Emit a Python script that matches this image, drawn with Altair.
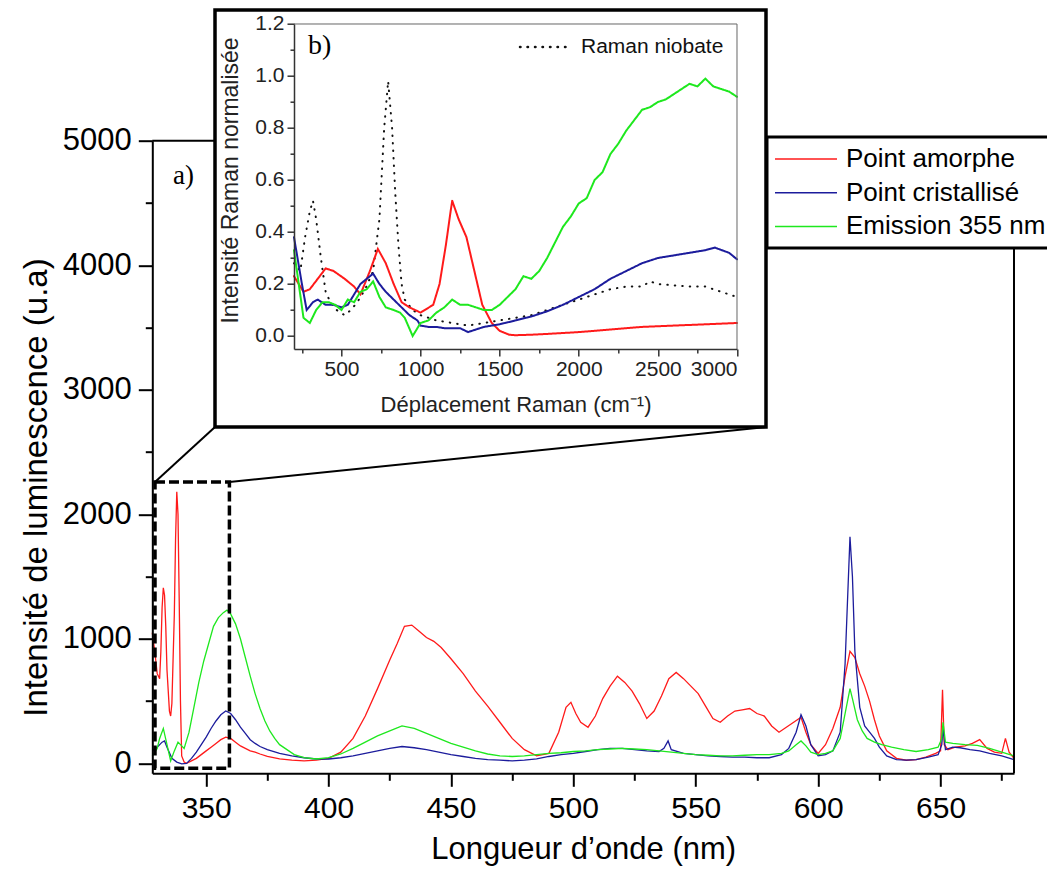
import altair as alt
import pandas as pd

# ---------------- main spectra (wavelength nm, intensity u.a) ----------------
series = ["Point amorphe", "Point cristallisé", "Emission 355 nm"]
colors = ["#ff1a1a", "#1c1c9c", "#1ee81e"]

red_x = [328, 329, 330, 331, 331.5, 332, 332.5, 333, 333.5, 334, 335, 335.5, 336, 337, 337.5, 338, 338.5, 339,
         339.5, 340, 341, 342, 344, 346, 348, 350, 352, 354, 356, 358, 360, 362, 364, 366, 368, 370, 372, 375,
         380, 385, 390, 395, 400, 405, 410, 415, 420, 425, 428, 431, 434, 437, 440, 443, 446, 450, 455, 460,
         465, 470, 475, 480, 485, 490, 494, 497, 499, 501, 503, 506, 509, 512, 515, 518, 521, 524, 527, 530,
         533, 536, 539, 542, 545, 548, 551, 554, 557, 560, 563, 566, 569, 572, 575, 578, 581, 584, 587, 590,
         593, 595, 597, 600, 603, 606, 609, 611, 613, 615, 617, 619, 621, 623, 625, 628, 632, 636, 640, 644,
         648, 650, 650.8, 651.5, 653, 656, 660, 663, 666, 669, 672, 675, 676.5, 678, 680]
red_y = [1050, 900, 720, 680, 900, 1250, 1410, 1350, 1100, 750, 420, 380, 480, 1200, 1800, 2180, 2000, 1300,
         500, 60, 10, 0, 20, 40, 70, 100, 130, 160, 190, 210, 200, 170, 140, 120, 100, 90, 75, 55,
         35, 25, 20, 25, 40, 90, 200, 380, 600, 830, 960, 1100, 1110, 1060, 1010, 980, 930, 840, 720, 580,
         460, 330, 200, 110, 60, 80, 250, 450, 490, 400, 330, 290, 380, 520, 620, 700, 650, 580, 480, 360,
         420, 540, 680, 730, 680, 620, 560, 460, 360, 330, 380, 420, 430, 440, 400, 380, 300, 250, 290, 330,
         370, 250, 150, 80, 150, 280, 450, 700, 900, 850, 720, 620, 500, 350, 220, 100, 40, 25, 30, 50,
         80, 100, 590, 150, 110, 130, 140, 160, 190, 120, 90, 80, 200, 90, 40]

blue_x = [328, 330, 332, 333, 334, 336, 338, 340, 342, 344, 346, 348, 350, 352, 354, 356, 358, 360, 362, 364,
          366, 368, 370, 372, 375, 380, 385, 390, 395, 400, 405, 410, 415, 420, 425, 430, 435, 440, 445, 450,
          455, 460, 465, 470, 475, 480, 485, 490, 495, 500, 505, 510, 515, 520, 525, 530, 535, 537, 538.7, 540,
          545, 550, 555, 560, 565, 570, 575, 580, 585, 588, 591, 593, 595, 597, 600, 603, 606, 609, 611, 613,
          614, 615, 617, 619, 621, 623, 625, 628, 632, 636, 640, 645, 649, 650.5, 651, 652, 655, 658, 662, 666,
          670, 675, 680]
blue_y = [100, 130, 170, 180, 130, 40, 10, -5, 0, 40, 90, 150, 210, 280, 340, 390, 420, 400, 350, 290,
          240, 190, 160, 135, 110, 80, 60, 45, 35, 35, 45, 60, 80, 100, 120, 135, 125, 110, 90, 70,
          55, 40, 30, 25, 20, 25, 35, 55, 70, 80, 95, 110, 120, 120, 110, 100, 95, 120, 180, 110,
          80, 70, 60, 55, 50, 50, 45, 45, 70, 120, 250, 390, 300, 150, 60, 70, 100, 250, 800, 1820,
          1500, 900, 450, 300, 250, 200, 130, 60, 30, 25, 30, 50, 70, 150, 280, 110, 130, 125, 110, 100,
          80, 60, 30]

green_x = [328, 330, 331, 332.5, 334, 335.5, 337, 338.5, 340, 341, 343, 345, 347, 349, 351, 353, 355, 357, 358.5,
           360, 362, 364, 366, 368, 370, 372, 374, 376, 378, 380, 383, 386, 390, 395, 400, 405, 410, 415, 420,
           425, 430, 435, 440, 445, 450, 455, 460, 465, 470, 475, 480, 485, 490, 495, 500, 505, 510, 515, 520,
           525, 530, 535, 540, 545, 550, 555, 560, 565, 570, 575, 580, 585, 588, 591, 593, 595, 597, 600, 603,
           606, 609, 611, 613, 614, 616, 618, 620, 623, 626, 630, 635, 640, 645, 649, 650.5, 651, 652, 655, 660,
           665, 670, 675, 680]
green_y = [60, 120, 200, 280, 150, 20, 100, 170, 140, 120, 250, 450, 650, 820, 960, 1100, 1170, 1210, 1230,
           1200, 1120, 1000, 850, 700, 560, 440, 340, 260, 200, 150, 110, 70, 45, 35, 45, 75, 120, 170, 220,
           260, 300, 280, 240, 200, 160, 130, 100, 75, 60, 55, 60, 70, 80, 85, 95, 100, 110, 115, 120,
           115, 110, 100, 90, 80, 70, 65, 60, 60, 65, 70, 70, 80, 100, 150, 180, 140, 90, 70, 80,
           100, 200, 400, 600, 520, 350, 260, 200, 170, 150, 130, 110, 95, 110, 130, 200, 330, 170, 160, 150,
           145, 120, 90, 60]

# ---------------- inset: Raman (cm-1, normalised) ----------------
inset_series = ["Point amorphe", "Point cristallisé", "Emission 355 nm", "Raman niobate"]
inset_colors = ["#ff1a1a", "#1c1c9c", "#1ee81e", "#111111"]

r_red_x = [200, 260, 300, 350, 400, 450, 520, 580, 620, 680, 730, 780, 830, 880, 930, 1000, 1080, 1120, 1160,
           1190, 1200, 1240, 1290, 1340, 1390, 1450, 1500, 1560, 1600, 1700, 1800, 2000, 2200, 2400, 2600,
           2800, 3000]
r_red_y = [0.23, 0.17, 0.18, 0.22, 0.26, 0.25, 0.22, 0.19, 0.16, 0.25, 0.335, 0.28, 0.2, 0.13, 0.11, 0.09,
           0.12, 0.2, 0.35, 0.48, 0.52, 0.45, 0.38, 0.25, 0.12, 0.05, 0.02, 0.005, 0.003, 0.005, 0.008, 0.015,
           0.025, 0.035, 0.04, 0.045, 0.05]

r_blue_x = [200, 250, 280, 320, 350, 400, 450, 500, 540, 580, 620, 660, 700, 740, 780, 830, 880, 930, 980,
            1000, 1050, 1100, 1150, 1200, 1250, 1300, 1350, 1400, 1450, 1500, 1600, 1700, 1800, 1900, 2000,
            2100, 2200, 2300, 2400, 2500, 2600, 2700, 2800, 2860, 2950, 3000]
r_blue_y = [0.38, 0.2, 0.1, 0.13, 0.14, 0.12, 0.12, 0.11, 0.12, 0.16, 0.2, 0.22, 0.24, 0.2, 0.17, 0.14, 0.11,
            0.08, 0.06, 0.04, 0.035, 0.035, 0.03, 0.03, 0.03, 0.015, 0.025, 0.035, 0.04, 0.045, 0.06, 0.075,
            0.095, 0.12, 0.15, 0.18, 0.22, 0.25, 0.28, 0.3, 0.31, 0.32, 0.33, 0.34, 0.32, 0.295]

r_green_x = [200, 230, 260, 300, 340, 380, 420, 460, 500, 540, 580, 620, 660, 700, 740, 780, 830, 870, 900,
             950, 1000, 1050, 1100, 1150, 1200, 1250, 1300, 1350, 1400, 1450, 1500, 1550, 1600, 1650, 1700,
             1750, 1800, 1850, 1900, 1950, 2000, 2050, 2100, 2150, 2200, 2250, 2300, 2350, 2400, 2450, 2500,
             2550, 2600, 2650, 2700, 2750, 2800, 2850, 2900, 2950, 3000]
r_green_y = [0.33, 0.2, 0.07, 0.05, 0.1, 0.13, 0.13, 0.12, 0.1, 0.14, 0.13, 0.17, 0.18, 0.21, 0.15, 0.11, 0.1,
             0.09, 0.07, 0.0, 0.05, 0.06, 0.09, 0.11, 0.14, 0.12, 0.12, 0.11, 0.1, 0.1, 0.12, 0.15, 0.18, 0.23,
             0.22, 0.25, 0.3, 0.36, 0.42, 0.46, 0.51, 0.53, 0.6, 0.63, 0.7, 0.74, 0.79, 0.83, 0.87, 0.88, 0.9,
             0.91, 0.93, 0.95, 0.97, 0.96, 0.99, 0.96, 0.95, 0.94, 0.92]

r_nb_x = [200, 240, 270, 300, 320, 340, 370, 400, 430, 470, 520, 560, 600, 650, 700, 740, 770, 795, 820, 840,
          860, 880, 900, 950, 1000, 1100, 1200, 1300, 1400, 1500, 1600, 1700, 1800, 1900, 2000, 2100, 2200,
          2300, 2400, 2450, 2500, 2600, 2700, 2800, 2900, 3000]
r_nb_y = [0.28, 0.25, 0.38, 0.48, 0.52, 0.45, 0.3, 0.17, 0.13, 0.1, 0.08, 0.1, 0.13, 0.18, 0.25, 0.45, 0.8,
          0.98, 0.8, 0.55, 0.35, 0.2, 0.14, 0.1, 0.08, 0.06, 0.05, 0.04, 0.05, 0.06, 0.07, 0.08, 0.1, 0.12,
          0.14, 0.16, 0.18, 0.19, 0.19, 0.21, 0.2, 0.195, 0.19, 0.19, 0.17, 0.15]

# ---------------- geometry (page pixels) ----------------
OX, OY = 152.3, 140.7          # main plot origin on the page
W, H = 861.7, 632.6            # main plot size
MX = (328, 680)
MY = (-80, 5000)


def px(x):
    return x - OX


def py(y):
    return y - OY


def mx(v):
    return (v - MX[0]) / (MX[1] - MX[0]) * W


def my(v):
    return H - (v - MY[0]) / (MY[1] - MY[0]) * H


# inset plot area on the page
IL, IR, IT, IB = 294, 737, 24, 349
IXD = (200, 3000)
IYD = (-0.05, 1.2)

FONT = "Liberation Sans"
NARROW = "Liberation Sans Narrow, Liberation Sans"
SERIF = "Liberation Serif"

one = pd.DataFrame({"k": [0]})

# ---------------- main lines ----------------
rows = []
for name, xs, ys in [(series[0], red_x, red_y), (series[1], blue_x, blue_y), (series[2], green_x, green_y)]:
    for i, (a, b) in enumerate(zip(xs, ys)):
        rows.append({"wl": a, "val": b, "serie": name, "i": i})
main_df = pd.DataFrame(rows)

main_lines = alt.Chart(main_df).mark_line(strokeWidth=1.3).encode(
    x=alt.X("wl:Q", scale=alt.Scale(domain=list(MX), nice=False, zero=False),
            axis=alt.Axis(values=list(range(350, 676, 25)), format="d",
                          labelExpr="datum.value % 50 === 0 ? datum.label : ''",
                          tickSize={"condition": {"test": "datum.value % 50 === 0", "value": 13}, "value": 7},
                          tickWidth=2, domainWidth=2, domainColor="black", tickColor="black",
                          labelFont=NARROW, labelFontSize=30, labelColor="black", labelPadding=7,
                          labelOverlap=False, grid=False,
                          title="Longueur d’onde (nm)", titleFont=NARROW, titleFontSize=31,
                          titleFontWeight="normal", titleColor="black",
                          titleY=76, titleBaseline="middle", zindex=1)),
    y=alt.Y("val:Q", scale=alt.Scale(domain=list(MY), nice=False, zero=False),
            axis=alt.Axis(values=list(range(0, 5001, 500)), format="d",
                          labelExpr="datum.value % 1000 === 0 ? datum.label : ''",
                          tickSize={"condition": {"test": "datum.value % 1000 === 0", "value": 14}, "value": 7},
                          tickWidth=2, domainWidth=2, domainColor="black", tickColor="black",
                          labelFont=FONT, labelFontSize=31, labelColor="black", labelPadding=7,
                          labelOverlap=False, grid=False,
                          title="Intensité de luminescence (u.a)", titleFont=FONT, titleFontSize=33,
                          titleFontWeight="normal", titleColor="black", titleAngle=270,
                          titleX=px(36), titleY=py(487), titleBaseline="middle", zindex=1)),
    color=alt.Color("serie:N", scale=alt.Scale(domain=series, range=colors),
                    legend=alt.Legend(orient="none", legendX=px(793), legendY=py(146),
                                      title=None, symbolType="M-3,0H3", symbolSize=427,
                                      symbolStrokeWidth=1.5, labelFont=FONT, labelFontSize=26,
                                      labelColor="black", labelOffset=27, rowPadding=7.7,
                                      padding=0, labelLimit=400)),
    order="i:Q",
)

# ---------------- decorations of the main frame ----------------
frame_top = alt.Chart(one).mark_rule(color="black", strokeWidth=2).encode(
    x=alt.value(0), x2=alt.value(W), y=alt.value(0))
frame_right = alt.Chart(one).mark_rule(color="black", strokeWidth=2).encode(
    x=alt.value(W), y=alt.value(0), y2=alt.value(H))

bx0, bx1, by0, by1 = mx(329.1), mx(359.5), my(2260), my(-40)
dash_box = alt.Chart(one).mark_rect(fill=None, stroke="black", strokeWidth=3.5, strokeDash=[10, 4]).encode(
    x=alt.value(bx0), x2=alt.value(bx1), y=alt.value(by0), y2=alt.value(by1))

INS_L, INS_R, INS_T, INS_B = 215, 766, 10, 427
conn1 = alt.Chart(one).mark_rule(color="black", strokeWidth=2).encode(
    x=alt.value(bx0), y=alt.value(by0), x2=alt.value(px(INS_L)), y2=alt.value(py(INS_B)))
conn2 = alt.Chart(one).mark_rule(color="black", strokeWidth=2).encode(
    x=alt.value(bx1), y=alt.value(by0), x2=alt.value(px(INS_R)), y2=alt.value(py(INS_B)))

inset_box = alt.Chart(one).mark_rect(fill="white", stroke="black", strokeWidth=3.5).encode(
    x=alt.value(px(INS_L)), x2=alt.value(px(INS_R)), y=alt.value(py(INS_T)), y2=alt.value(py(INS_B)))

# ---------------- inset lines ----------------
irows = []
for name, xs, ys in [(inset_series[3], r_nb_x, r_nb_y), (inset_series[0], r_red_x, r_red_y),
                     (inset_series[1], r_blue_x, r_blue_y), (inset_series[2], r_green_x, r_green_y)]:
    for i, (a, b) in enumerate(zip(xs, ys)):
        irows.append({"cm": a, "ri": b, "serie": name, "i": i})
inset_df = pd.DataFrame(irows)

inset_lines = alt.Chart(inset_df).mark_line(strokeWidth=2, strokeCap="round").encode(
    x=alt.X("cm:Q", scale=alt.Scale(domain=list(IXD), range=[px(IL), px(IR)], nice=False, zero=False),
            axis=alt.Axis(orient="bottom", offset=py(IB) - H, format="d",
                          values=list(range(250, 3001, 250)),
                          labelExpr="datum.value % 500 === 0 ? datum.label : ''",
                          tickSize={"condition": {"test": "datum.value % 500 === 0", "value": 7}, "value": 4},
                          tickWidth=1.5, domainWidth=1.5, domainColor="#333", tickColor="#333",
                          labelFont=FONT, labelFontSize=21, labelColor="#222", labelPadding=3,
                          labelOverlap=False, grid=False,
                          title="Déplacement Raman (cm⁻¹)", titleFont=FONT, titleFontSize=22,
                          titleFontWeight="normal", titleColor="#222", titleY=56,
                          titleBaseline="middle", zindex=2)),
    y=alt.Y("ri:Q", scale=alt.Scale(domain=list(IYD), range=[py(IB), py(IT)], nice=False, zero=False),
            axis=alt.Axis(orient="left", offset=-px(IL),
                          values=[round(v * 0.1, 1) for v in range(0, 13)],
                          labelExpr="round(datum.value * 10) % 2 === 0 ? format(datum.value, '.1f') : ''",
                          tickSize={"condition": {"test": "round(datum.value * 10) % 2 === 0", "value": 7},
                                    "value": 4},
                          tickWidth=1.5, domainWidth=1.5, domainColor="#333", tickColor="#333",
                          labelFont=FONT, labelFontSize=21, labelColor="#222", labelPadding=3,
                          labelOverlap=False, grid=False,
                          title="Intensité Raman normalisée", titleFont=FONT, titleFontSize=23,
                          titleFontWeight="normal", titleColor="#222", titleAngle=270,
                          titleX=-64, titleY=py(180), titleBaseline="middle", zindex=2)),
    color=alt.Color("serie:N", scale=alt.Scale(domain=inset_series, range=inset_colors), legend=None),
    strokeDash=alt.StrokeDash("serie:N", scale=alt.Scale(domain=inset_series,
                                                         range=[[1, 0], [1, 0], [1, 0], [0.5, 7]]),
                              legend=None),
    order="i:Q",
)

inset_top = alt.Chart(one).mark_rule(color="#666", strokeWidth=1).encode(
    x=alt.value(px(IL)), x2=alt.value(px(IR)), y=alt.value(py(IT)))
inset_right = alt.Chart(one).mark_rule(color="#666", strokeWidth=1).encode(
    x=alt.value(px(IR)), y=alt.value(py(IT)), y2=alt.value(py(IB)))

nb_key = alt.Chart(one).mark_rule(color="#111", strokeWidth=2.5, strokeDash=[0.5, 7], strokeCap="round").encode(
    x=alt.value(px(520)), x2=alt.value(px(570)), y=alt.value(py(47)))
nb_text = alt.Chart(pd.DataFrame({"t": ["Raman niobate"]})).mark_text(
    align="left", baseline="middle", font=FONT, fontSize=21, color="#111").encode(
    x=alt.value(px(581)), y=alt.value(py(47)), text="t:N")

lab_a = alt.Chart(pd.DataFrame({"t": ["a)"]})).mark_text(
    align="left", baseline="middle", font=SERIF, fontSize=27, color="black").encode(
    x=alt.value(px(173)), y=alt.value(py(176)), text="t:N")
lab_b = alt.Chart(pd.DataFrame({"t": ["b)"]})).mark_text(
    align="left", baseline="middle", font=SERIF, fontSize=28, color="black").encode(
    x=alt.value(px(308)), y=alt.value(py(46)), text="t:N")

legend_box = alt.Chart(one).mark_rect(fill="white", stroke="black", strokeWidth=3).encode(
    x=alt.value(px(767)), x2=alt.value(px(1070)), y=alt.value(py(137)), y2=alt.value(py(248)))

chart = alt.layer(
    main_lines, frame_top, frame_right, dash_box, conn1, conn2, inset_box,
    inset_lines, inset_top, inset_right, nb_key, nb_text, lab_a, lab_b, legend_box
).resolve_scale(
    x="independent", y="independent", color="independent", strokeDash="independent"
).properties(
    width=W, height=H,
    autosize=alt.AutoSizeParams(type="none"),
    padding={"left": OX - 8, "top": OY - 8, "right": 1047 - (OX + W), "bottom": 96},
    background="white",
).configure_view(stroke=None)

chart.save("out.html", embed_options={"renderer": "svg", "actions": False})
